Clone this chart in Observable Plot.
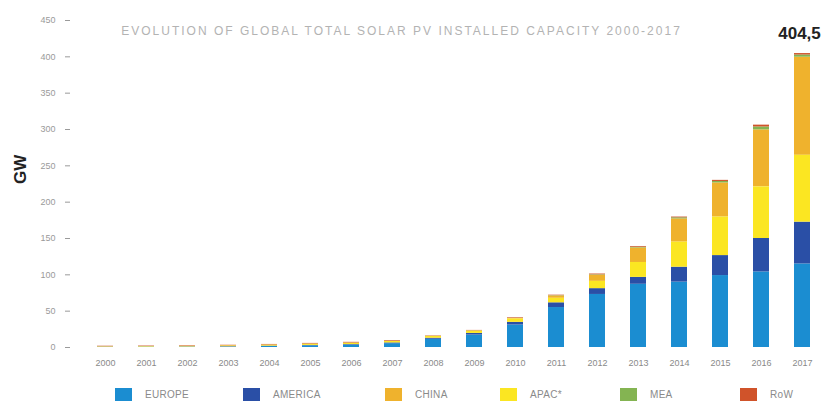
<!DOCTYPE html>
<html>
<head>
<meta charset="utf-8">
<script src="https://cdn.jsdelivr.net/npm/d3@7"></script>
<script src="https://cdn.jsdelivr.net/npm/@observablehq/plot@0.6"></script>
<style>
  html, body { margin: 0; padding: 0; background: #fff; }
  body { font-family: "Liberation Sans", Arial, sans-serif; width: 824px; height: 401px; overflow: hidden; }
  #chart svg { display: block; }
  .legend { position: relative; height: 21px; width: 824px; }
  .legend .item { position: absolute; top: 8px; display: flex; align-items: center; }
  .legend .sw { width: 17px; height: 13px; margin-right: 13px; }
  .legend .lb { font-size: 10px; color: #8a8a8a; letter-spacing: 0.3px; }
</style>
</head>
<body>
<div id="chart"></div>
<script>
// ---- data (GW, cumulative installed capacity) ----
const years   = ["2000","2001","2002","2003","2004","2005","2006","2007","2008","2009","2010","2011","2012","2013","2014","2015","2016","2017"];
const europe  = [0.3, 0.4, 0.5, 0.7, 1.4, 2.3, 3.3, 5.3, 11.3, 17.2, 31, 55, 73, 87, 90, 99, 104, 115];
const america = [0.2, 0.25, 0.3, 0.4, 0.5, 0.6, 0.75, 1.0, 1.5, 2.2, 3.6, 6.5, 8, 9.5, 20.5, 27.5, 46, 57.5];
const apac    = [0.6, 0.7, 0.9, 1.2, 1.5, 1.8, 2.0, 2.2, 2.5, 3.2, 4.6, 6.2, 10, 20.5, 34.5, 53, 71, 92];
const china   = [0.03, 0.04, 0.05, 0.06, 0.07, 0.08, 0.1, 0.1, 0.14, 0.3, 0.8, 3.3, 8.5, 20, 32, 47, 78.5, 135];
const mea     = [0.02, 0.02, 0.03, 0.03, 0.04, 0.05, 0.06, 0.07, 0.08, 0.1, 0.2, 0.4, 0.6, 1, 1.5, 2, 4, 3];
const rowW    = [0.6, 0.6, 0.7, 0.7, 0.7, 0.8, 0.9, 0.9, 0.5, 0.5, 0.8, 0.6, 1, 1, 1, 1.5, 2.5, 2];

const regions    = ["EUROPE", "AMERICA", "CHINA", "APAC*", "MEA", "RoW"];
const regionVals = [europe, america, china, apac, mea, rowW];
const colors     = ["#1b8dd1", "#2a4fa6", "#efb22d", "#fbe622", "#84b452", "#d0532a"];
const stackOrder = ["EUROPE", "AMERICA", "APAC*", "CHINA", "MEA", "RoW"];
const yTicks     = [0, 50, 100, 150, 200, 250, 300, 350, 400, 450];
const title      = "EVOLUTION OF GLOBAL TOTAL SOLAR PV INSTALLED CAPACITY 2000-2017";
const yLabel     = "GW";
const labelYear  = "2017";

// ---- build table ----
const rows = years.flatMap((yr, i) => regions.map((r, k) => ({year: yr, region: r, value: regionVals[k][i]})));
const totals = years.map((yr, i) => ({year: yr, total: d3.sum(regionVals, v => v[i])}));
const topLabel = totals.filter(d => d.year === labelYear);

const plot = Plot.plot({
  width: 824,
  height: 380,
  marginTop: 20,
  marginBottom: 33,
  marginLeft: 70,
  marginRight: 0,
  insetLeft: 14,
  style: {fontFamily: "Liberation Sans, Arial, sans-serif", background: "#fff"},
  x: {domain: years, paddingInner: 0.6, paddingOuter: 0.2},
  y: {domain: [0, 450]},
  color: {domain: regions, range: colors},
  marks: [
    Plot.barY(rows, {x: "year", y: "value", fill: "region", order: stackOrder}),
    Plot.axisY({ticks: yTicks, tickSize: 5, tickPadding: 10, fontSize: 9, color: "#9a9a9a", label: null}),
    Plot.axisX({tickSize: 0, tickPadding: 12, fontSize: 9, color: "#8a8a8a", label: null}),
    Plot.text(topLabel, {x: "year", y: "total", text: d => d.total.toFixed(1).replace(".", ","), dy: -20, dx: -3, fontSize: 17, fontWeight: "bold", fill: "#222"}),
    Plot.text([title], {frameAnchor: "top", dy: 6, dx: -46, fontSize: 12, fill: "#b3b3b3"}),
    Plot.text([yLabel], {frameAnchor: "left", rotate: -90, dx: -50, fontSize: 17, fontWeight: "bold", fill: "#222"})
  ]
});
plot.querySelectorAll("text").forEach(t => { if (t.textContent === title) t.style.letterSpacing = "2px"; });
document.getElementById("chart").appendChild(plot);

// ---- legend ----
const legendLeft = [115, 243, 385, 500, 620, 740];
const legend = document.createElement("div");
legend.className = "legend";
regions.forEach((r, k) => {
  const it = document.createElement("div");
  it.className = "item";
  it.style.left = legendLeft[k] + "px";
  const sw = document.createElement("div");
  sw.className = "sw";
  sw.style.background = colors[k];
  const lb = document.createElement("span");
  lb.className = "lb";
  lb.textContent = r;
  it.appendChild(sw); it.appendChild(lb);
  legend.appendChild(it);
});
document.getElementById("chart").appendChild(legend);
</script>
</body>
</html>
